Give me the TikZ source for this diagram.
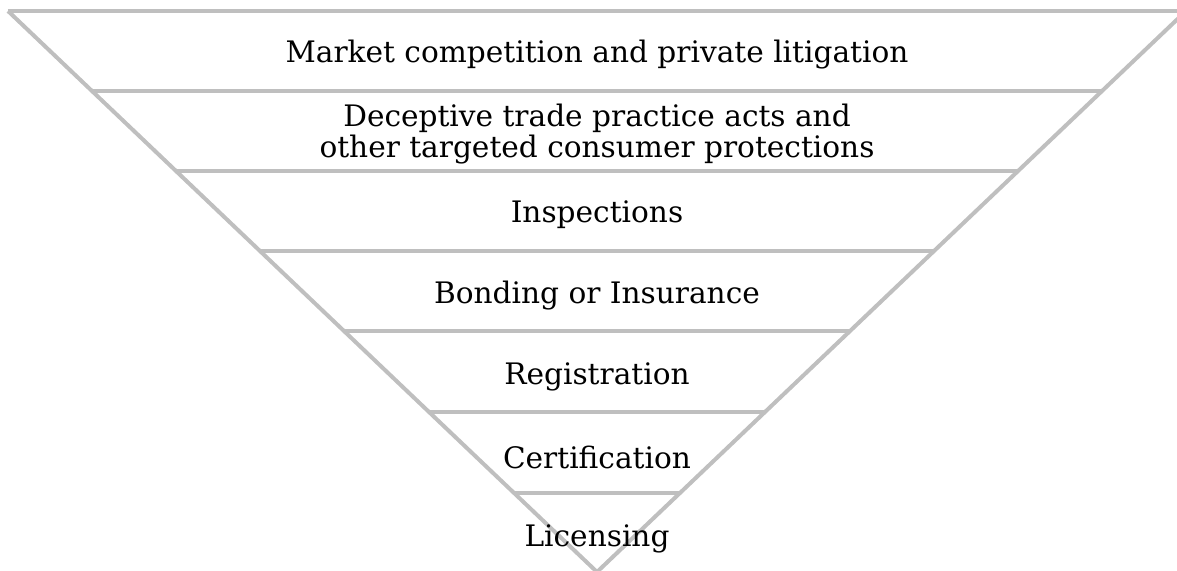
\documentclass[tikz,border=0pt]{standalone}
\usepackage{fontspec}
\setmainfont{DejaVu Serif}
\definecolor{funnelgray}{RGB}{191,191,191}

\begin{document}
\begin{tikzpicture}[x=0.5pt,y=-0.5pt,
    band/.style={draw=funnelgray, line width=2pt},
    label/.style={text=black, align=center, font=\fontsize{14.8}{15.5}\selectfont}]
    \useasboundingbox (0,0) rectangle (1177,571);
    \clip (0,0) rectangle (1177,571);

    % Outline of the funnel
    \coordinate (TL) at (8,11);
    \coordinate (TR) at (1186,11);
    \coordinate (tip) at (597,572);
    \draw[band] (TL) -- (tip) -- (TR);

    % Dividing lines between the levels
    \foreach \y in {11,91,171,251,331,412,493}
        \draw[band] ({597-(572-\y)*1.05},\y) -- ({597+(572-\y)*1.05},\y);

    % Level labels, widest at the top
    \node[label] (market) at (597,55) {Market competition and private litigation};
    \node[label] (deceptive) at (597,134) {Deceptive trade practice acts and\\other targeted consumer protections};
    \node[label] (inspect) at (597,215) {Inspections};
    \node[label] (bonding) at (597,296) {Bonding or Insurance};
    \node[label] (register) at (597,377) {Registration};
    \node[label] (certify) at (597,457) {Certification};
    \node[label] (license) at (597,539) {Licensing};
\end{tikzpicture}
\end{document}
